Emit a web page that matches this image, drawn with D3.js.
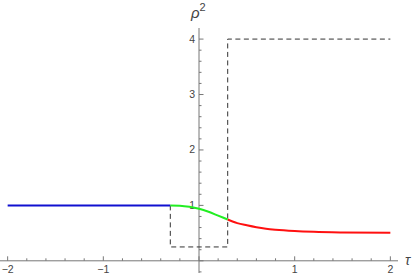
<!DOCTYPE html>
<html>
<head>
<meta charset="utf-8">
<script src="https://cdn.jsdelivr.net/npm/d3@7"></script>
<style>
  body { margin: 0; background: #fff; }
  text { font-family: "Liberation Sans", Arial, sans-serif; fill: #444; }
</style>
</head>
<body>
<script>
// data
const tauBlue = [-2, -0.3];
const rhoBlue = [1, 1];
const tauGreen = [-0.3, -0.2, -0.1, 0, 0.1, 0.2, 0.3];
const rhoGreen = [1.0, 0.995, 0.975, 0.94, 0.885, 0.815, 0.745];
const tauRed = [0.3, 0.4, 0.5, 0.6, 0.7, 0.8, 1.0, 1.2, 1.5, 2.0];
const rhoRed = [0.745, 0.68, 0.64, 0.605, 0.578, 0.56, 0.537, 0.523, 0.512, 0.505];
const tauStep = [-0.3, -0.3, 0.3, 0.3, 2];
const rhoStep = [1, 0.25, 0.25, 4, 4];
const xTickLabels = [-2, -1, 1, 2];
const yTickLabels = [1, 2, 3, 4];

const width = 415, height = 275;

const svg = d3.select("body").append("svg")
    .attr("width", width)
    .attr("height", height);

// scales
const x = d3.scaleLinear().domain([-2.08, 2.08]).range([0, 398]);
const y = d3.scaleLinear().domain([-0.22, 4.2]).range([273, 28]);

const axisColor = "#777";

// x axis line at rho = 0
svg.append("line")
    .attr("x1", x(-2.08)).attr("x2", x(2.08))
    .attr("y1", y(0)).attr("y2", y(0))
    .attr("stroke", axisColor).attr("stroke-width", 1);

// y axis line at tau = 0
svg.append("line")
    .attr("x1", x(0)).attr("x2", x(0))
    .attr("y1", y(-0.22)).attr("y2", y(4.2))
    .attr("stroke", axisColor).attr("stroke-width", 1);

// ticks every 0.2, major at integers
const xTicks = d3.range(-40, 41, 4).map(d => d / 20);
svg.append("g")
    .selectAll("line")
    .data(xTicks)
    .join("line")
    .attr("x1", d => x(d)).attr("x2", d => x(d))
    .attr("y1", y(0))
    .attr("y2", d => y(0) - (Math.abs(d - Math.round(d)) < 1e-6 ? 4.5 : 2.5))
    .attr("stroke", axisColor);

const yTicks = d3.range(-1, 21).map(d => d / 5);
svg.append("g")
    .selectAll("line")
    .data(yTicks)
    .join("line")
    .attr("y1", d => y(d)).attr("y2", d => y(d))
    .attr("x1", x(0))
    .attr("x2", d => x(0) + (Math.abs(d - Math.round(d)) < 1e-6 ? 4.5 : 2.5))
    .attr("stroke", axisColor);

// tick labels
svg.append("g")
    .selectAll("text")
    .data(xTickLabels)
    .join("text")
    .attr("x", d => x(d))
    .attr("y", 273)
    .attr("text-anchor", "middle")
    .style("font-size", "10.5px")
    .text(d => d < 0 ? "\u2212" + Math.abs(d) : d);

svg.append("g")
    .selectAll("text")
    .data(yTickLabels)
    .join("text")
    .attr("x", x(0) - 4)
    .attr("y", d => y(d) + 3.5)
    .attr("text-anchor", "end")
    .style("font-size", "10.5px")
    .text(d => d);

// axis labels
const yl = svg.append("text")
    .attr("x", 191)
    .attr("y", 18)
    .style("font-size", "15px")
    .style("font-style", "italic");
yl.append("tspan").text("\u03C1");
yl.append("tspan").attr("dy", -7).style("font-size", "11px").style("font-style", "normal").text("2");

svg.append("text")
    .attr("x", 405)
    .attr("y", 265)
    .style("font-size", "14px")
    .style("font-style", "italic")
    .text("\u03C4");

// step (dashed)
const stepLine = d3.line().x(d => x(d[0])).y(d => y(d[1]));
svg.append("path")
    .attr("d", stepLine(d3.zip(tauStep, rhoStep)))
    .attr("fill", "none")
    .attr("stroke", "#333")
    .attr("stroke-width", 1)
    .attr("stroke-dasharray", "5,3.5");

// curves
const curve = d3.line().x(d => x(d[0])).y(d => y(d[1])).curve(d3.curveMonotoneX);
const series = [
    [tauBlue, rhoBlue, "#1010d0"],
    [tauGreen, rhoGreen, "#22ee22"],
    [tauRed, rhoRed, "#ff1010"]
];
series.forEach(s => {
    svg.append("path")
        .attr("d", curve(d3.zip(s[0], s[1])))
        .attr("fill", "none")
        .attr("stroke", s[2])
        .attr("stroke-width", 2);
});
</script>
</body>
</html>
